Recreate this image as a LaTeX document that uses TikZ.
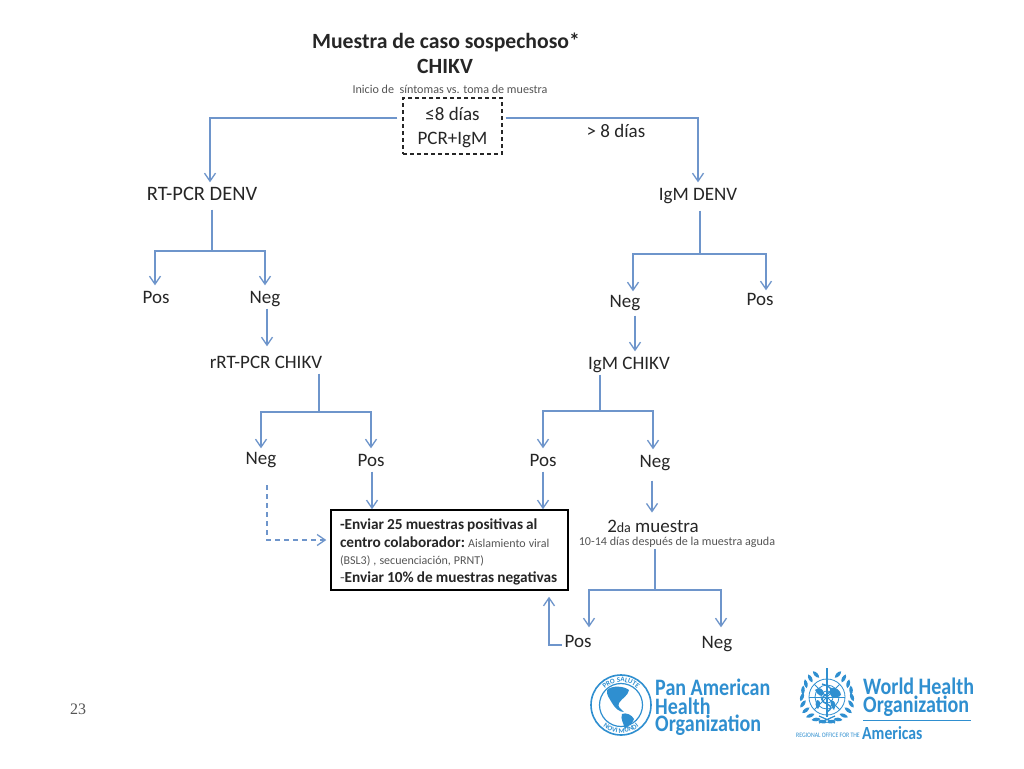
\documentclass[tikz,border=0pt]{standalone}
\usepackage{fontspec}
\setmainfont{Carlito}
\newfontfamily\numfont{Liberation Serif}
\newfontfamily\logofont[FakeStretch=0.85]{Carlito}
\usetikzlibrary{arrows.meta,decorations.text}
\definecolor{flow}{HTML}{6E95CB}
\definecolor{ink}{HTML}{262626}
\definecolor{soft}{HTML}{555555}
\definecolor{logo}{HTML}{2F8FD0}
\tikzset{
  x=1pt,y=-1pt,
  lbl/.style={inner sep=1.5pt,text=ink,text height=16pt,text depth=4pt,font=\fontsize{19}{22}\selectfont},
  sub/.style={inner sep=0pt,text=soft,font=\fontsize{12.1}{14}\selectfont},
  lin/.style={draw=flow,line width=1.5pt},
  arr/.style={lin,-{Straight Barb[length=8pt,width=11pt,line width=1.3pt]}},
  dasharr/.style={arr,dash pattern=on 5pt off 4pt,line width=1.1pt},
  logotxt/.style={inner sep=0pt,anchor=west,text=logo,font=\logofont\bfseries\fontsize{23.6}{24}\selectfont},
  logoline/.style={draw=logo,line width=.8pt,fill=none},
  blob/.style={fill=logo,draw=none},
  leaf/.style={fill=logo,draw=none}
}
\begin{document}
\begin{tikzpicture}
\useasboundingbox[fill=white] (0,0) rectangle (1024,768);
% titles
\node[inner sep=0,text=ink,font=\bfseries\fontsize{21.7}{24}\selectfont] (title) at (446,42) {Muestra de caso sospechoso*};
\node[inner sep=0,text=ink,font=\bfseries\fontsize{21.7}{24}\selectfont] (chikv) at (445,66) {CHIKV};
\node[sub] (inicio) at (450,89) {Inicio de\ \ síntomas vs. toma de muestra};
\node[draw=ink,line width=1.3pt,dash pattern=on 4pt off 3pt,minimum width=99pt,minimum height=56pt,inner sep=0,align=center,text=ink,font=\fontsize{19}{24}\selectfont] (start) at (452.5,126) {\rule{0pt}{17pt}≤8 días\\PCR+IgM};
\node[lbl] (gt) at (616,131) {> 8 días};
% left branch
\node[lbl,font=\fontsize{20.5}{22}\selectfont] (rtd) at (202,194) {RT-PCR DENV};
\node[lbl] (pos1) at (156,297) {Pos};
\node[lbl] (neg1) at (265,297) {Neg};
\node[lbl] (rtc) at (266,362) {rRT-PCR CHIKV};
\node[lbl] (neg2) at (261,458) {Neg};
\node[lbl] (pos2) at (371,460) {Pos};
% right branch
\node[lbl] (igd) at (698,194) {IgM DENV};
\node[lbl] (neg3) at (625,301) {Neg};
\node[lbl] (pos3) at (760,299) {Pos};
\node[lbl] (igc) at (629,363) {IgM CHIKV};
\node[lbl] (pos4) at (543,460) {Pos};
\node[lbl] (neg4) at (655,461) {Neg};
\node[inner sep=0,text=ink,font=\fontsize{19}{22}\selectfont] (seg) at (653,526) {2{\fontsize{14}{15}\selectfont da} muestra};
\node[sub] (segs) at (677,542) {10-14 días después de la muestra aguda};
\node[lbl] (pos5) at (578,641) {Pos};
\node[lbl] (neg5) at (717,642) {Neg};
% central box
\node[draw=black,line width=1.5pt,minimum width=237pt,minimum height=80pt,inner sep=0,text width=219pt,align=left,text=ink,font=\bfseries\fontsize{15.3}{17.5}\selectfont] (box) at (449.5,550)
 {\frenchspacing\spaceskip=.2em\rule{0pt}{15pt}-Enviar 25 muestras positivas al\\centro colaborador: {\mdseries\fontsize{12}{17.5}\selectfont\color{soft}Aislamiento viral}\\{\mdseries\fontsize{12}{17.5}\selectfont\color{soft}(BSL3) , secuenciación, PRNT)}\\{\mdseries\color{soft}-}Enviar 10\% de muestras negativas};
% junctions
\coordinate (jl) at (210,118);
\coordinate (jr) at (698,118);
\coordinate (j1) at (212,251);
\coordinate (j2) at (319,412);
\coordinate (j3) at (700,254);
\coordinate (j4) at (600,411);
\coordinate (j5) at (655,590);
\coordinate (dn) at (267,485);
\coordinate (dc) at (267,540);
\coordinate (rt) at (549,645);
% connectors
\draw[arr] ([xshift=-5pt,yshift=8pt]start.west) -- (jl) -- (jl |- rtd.north);
\draw[arr] ([xshift=3pt,yshift=8pt]start.east) -- (jr) -- (jr |- igd.north);
\draw[lin] ([yshift=-4pt]j1 |- rtd.south) -- (j1);
\draw[arr] (j1) -| ([xshift=-1pt]pos1.north);
\draw[arr] (j1) -| (neg1.north);
\draw[arr] ([xshift=2pt]neg1.south) -- ([xshift=2pt,yshift=4pt]neg1.south |- rtc.north);
\draw[lin] (j2 |- rtc.south) -- (j2);
\draw[arr] (j2) -| ([yshift=-2pt]neg2.north);
\draw[arr] (j2) -| (pos2.north);
\draw[lin] ([yshift=-5pt]j3 |- igd.south) -- (j3);
\draw[arr] (j3) -| ([xshift=8pt,yshift=-2pt]neg3.north);
\draw[arr] (j3) -| ([xshift=6pt,yshift=-3pt]pos3.north);
\draw[arr] ([xshift=10pt,yshift=-3pt]neg3.south) -- ([xshift=10pt]neg3.south |- igc.north);
\draw[lin] (j4 |- igc.south) -- (j4);
\draw[arr] (j4) -| (pos4.north);
\draw[arr] (j4) -| ([xshift=-2pt]neg4.north);
\draw[arr] ([xshift=1pt]pos2.south) -- ([xshift=1pt]pos2.south |- box.north);
\draw[arr] (pos4.south) -- (pos4.south |- box.north);
\draw[arr] ([xshift=-3pt,yshift=-8pt]neg4.south) -- ([xshift=-3pt,yshift=7pt]neg4.south |- seg.north);
\draw[dasharr] (dn) -- (dc) -- ([xshift=-4pt]box.west |- dc);
\draw[lin] ([yshift=-2pt]j5 |- segs.south) -- (j5);
\draw[arr] (j5) -| ([xshift=11pt,yshift=2pt]pos5.north);
\draw[arr] (j5) -| ([xshift=4pt,yshift=3pt]neg5.north);
\draw[arr] ([xshift=-1pt]pos5.west |- rt) -- (rt) -- ([yshift=-6pt]rt |- box.south);
% page number
\node[inner sep=0,text=soft,font=\numfont\fontsize{16}{18}\selectfont] (page) at (78,709) {23};
% PAHO logo
\node[logotxt] (pa) at (655,687) {Pan American};
\node[logotxt] (ph) at (655,706) {Health};
\node[logotxt] (po) at (655,725) {Organization};
\draw[logo,line width=1.6pt] (621,705) circle (30);
\draw[logo,line width=1.2pt] (621,705) circle (21.5);
\path[decorate,decoration={text along path,text align=center,text={|\color{logo}\bfseries\fontsize{7}{8}\selectfont|PRO SALUTE}}] (598,705) arc[start angle=180,end angle=360,radius=23];
\path[decorate,decoration={text along path,text align=center,text={|\color{logo}\bfseries\fontsize{7}{8}\selectfont|NOVI MUNDI}}] (593,705) arc[start angle=180,end angle=0,radius=28];
\fill[blob] (607,690) .. controls (612,685) and (624,686) .. (629,690) .. controls (628,696) and (622,698) .. (619,703) .. controls (617,707) and (621,709) .. (624,712) .. controls (619,712) and (615,708) .. (612,703) .. controls (610,699) and (606,695) .. (607,690) -- cycle;
\fill[blob] (622,714) .. controls (626,712) and (632,715) .. (634,719) .. controls (633,723) and (628,726) .. (625,729) .. controls (624,724) and (620,719) .. (622,714) -- cycle;
% WHO logo
\node[logotxt] (wh) at (863,686) {World Health};
\node[logotxt] (wo) at (863,706) {Organization};
\coordinate (wl) at (863,720);
\coordinate (wr) at (971,720);
\draw[logo,line width=1pt] (wl) -- (wr);
\node[inner sep=0,anchor=west,text=logo,font=\logofont\fontsize{6.8}{8}\selectfont] (ro) at (796,735) {REGIONAL OFFICE FOR THE};
\node[inner sep=0,anchor=west,text=logo,font=\logofont\bfseries\fontsize{18.5}{18}\selectfont] (am) at (862,733) {Americas};
\begin{scope}[shift={(827,697)}]
  \draw[logoline] (0,0) circle (18);
  \draw[logoline] (0,0) circle (12);
  \draw[logoline] (0,0) circle (6);
  \foreach \a in {0,45,90,135} \draw[logoline] (\a:18) -- (\a+180:18);
  \draw[logo,line width=1.8pt] (0,-29) -- (0,20);
  \draw[logo,line width=1.4pt] (-5,-13) .. controls (6,-10) and (6,-5) .. (0,-3) .. controls (-7,0) and (-6,5) .. (0,7) .. controls (5,9) and (5,12) .. (0,15);
  \fill[blob] (-12,-7) .. controls (-8,-11) and (-3,-8) .. (-3,-3) .. controls (-6,1) and (-9,-2) .. (-12,-7) -- cycle;
  \fill[blob] (3,-9) .. controls (9,-11) and (14,-6) .. (14,-2) .. controls (9,2) and (5,2) .. (3,-3) -- cycle;
  \fill[blob] (-10,3) .. controls (-6,3) and (-6,8) .. (-9,12) .. controls (-12,9) and (-12,6) .. (-10,3) -- cycle;
  \fill[blob] (4,3) .. controls (8,4) and (10,7) .. (7,13) .. controls (4,10) and (3,7) .. (4,3) -- cycle;
  \foreach \a in {100,116,132,148,164,180,196,212,228,244} {
    \fill[leaf,shift={(\a:25)},rotate=\a+70] (-4.5,0) .. controls (-2,-2.4) and (2,-2.4) .. (4.5,0) .. controls (2,2.4) and (-2,2.4) .. (-4.5,0) -- cycle;
    \fill[leaf,shift={(180-\a:25)},rotate=110-\a] (-4.5,0) .. controls (-2,-2.4) and (2,-2.4) .. (4.5,0) .. controls (2,2.4) and (-2,2.4) .. (-4.5,0) -- cycle;
  }
  \draw[logo,line width=1.2pt] (-8,26) -- (8,19) (8,26) -- (-8,19);
\end{scope}
\end{tikzpicture}
\end{document}
